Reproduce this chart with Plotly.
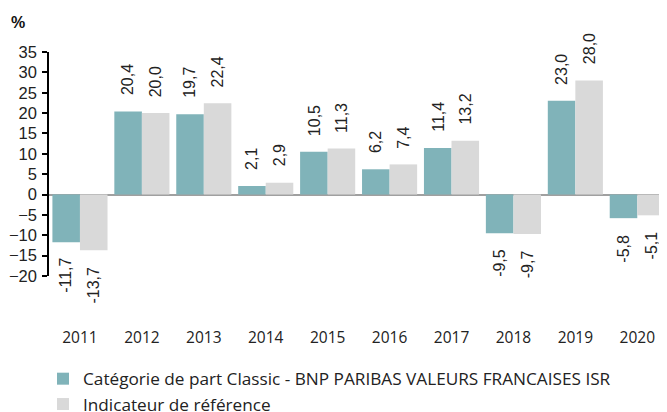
import plotly.graph_objects as go

years = ["2011", "2012", "2013", "2014", "2015", "2016", "2017", "2018", "2019", "2020"]
fund = [-11.7, 20.4, 19.7, 2.1, 10.5, 6.2, 11.4, -9.5, 23.0, -5.8]
bench = [-13.7, 20.0, 22.4, 2.9, 11.3, 7.4, 13.2, -9.7, 28.0, -5.1]
fund_name = "Catégorie de part Classic - BNP PARIBAS VALEURS FRANCAISES ISR"
bench_name = "Indicateur de référence"
y_ticks = [35, 30, 25, 20, 15, 10, 5, 0, -5, -10, -15, -20]

TEAL = "#80b3b9"
GRAY = "#d9d9d9"
LABEL_FONT = dict(family="Liberation Sans, Arial", size=16, color="#222222")
TICK_FONT = dict(family="Liberation Sans, Arial", size=16.5, color="#222222")
YEAR_FONT = dict(family="Open Sans", size=15.5, color="#222222")
LEGEND_FONT = dict(family="Open Sans", size=17.2, color="#222222")

# The page body has an 8px default margin; the figure is sized so the window matches.
OFF = 8
W, H = 667 - OFF, 412 - OFF
L, T, B = 49 - OFF, 52 - OFF, H - (276 - OFF)
PW, PH = W - L, H - T - B

fig = go.Figure()
fig.add_trace(go.Bar(x=years, y=fund, name=fund_name, marker=dict(color=TEAL, line=dict(width=0)),
                     legendgroup="a"))
fig.add_trace(go.Bar(x=years, y=bench, name=bench_name, marker=dict(color=GRAY, line=dict(width=0)),
                     legendgroup="b"))

def fmt(v):
    return f"{v:.1f}".replace(".", ",")

for vals, dx in ((fund, -13.8), (bench, 13.8)):
    for i, v in enumerate(vals):
        fig.add_annotation(x=i, y=v, xref="x", yref="y", text=fmt(v), textangle=-90,
                           showarrow=False, xshift=dx, yshift=14 if v >= 0 else -14,
                           yanchor="bottom" if v >= 0 else "top", xanchor="center",
                           font=LABEL_FONT)

fig.add_annotation(x=(18 - OFF - L) / PW, y=(T + PH - (22 - OFF)) / PH, xref="paper", yref="paper",
                   text="<b>%</b>", showarrow=False, xanchor="center", yanchor="middle",
                   font=dict(family="Liberation Sans, Arial", size=16, color="#111111"))

fig.update_layout(
    template="none",
    width=W, height=H,
    margin=dict(l=L, r=0, t=T, b=B, autoexpand=False),
    paper_bgcolor="white", plot_bgcolor="white",
    barmode="group", bargap=0.11, bargroupgap=0.0,
    showlegend=True,
    legend=dict(xref="container", yref="container", x=(43 - OFF) / W, y=1 - (361 - OFF) / H,
                xanchor="left", yanchor="top", font=LEGEND_FONT,
                tracegroupgap=0, bgcolor="rgba(0,0,0,0)", borderwidth=0),
    xaxis=dict(type="category", range=[-0.5, 9.48], showline=False, ticks="", showgrid=False,
               zeroline=False, tickfont=YEAR_FONT, ticklabelstandoff=50, automargin=False),
    yaxis=dict(range=[-20, 35], tickvals=y_ticks, showgrid=False, showline=True, linecolor="black",
               linewidth=1.5, ticks="outside", ticklen=5, tickcolor="black", tickwidth=1.5,
               tickfont=TICK_FONT, ticklabelstandoff=2, zeroline=True, zerolinecolor="#a0a0a0",
               zerolinewidth=2, automargin=False),
)

fig.write_html("out.html")
